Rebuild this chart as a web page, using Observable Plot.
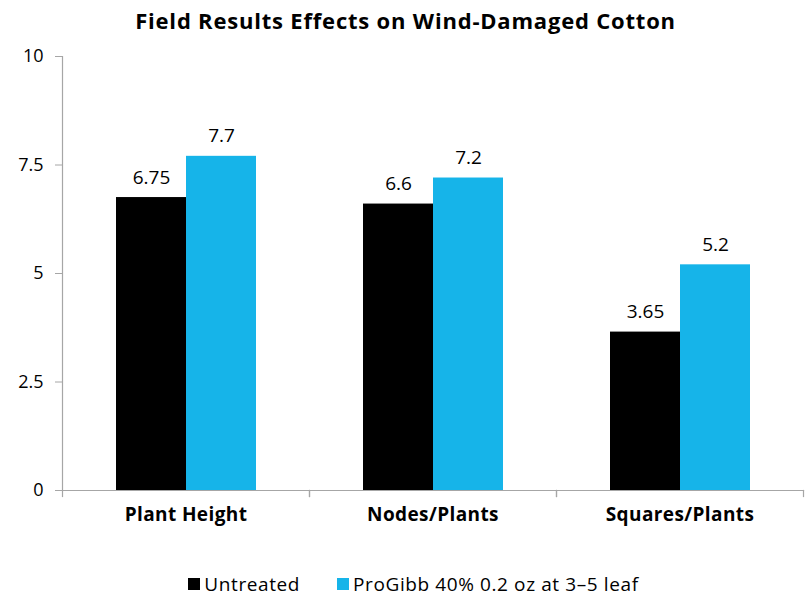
<!DOCTYPE html>
<html><head><meta charset="utf-8">
<script src="https://cdn.jsdelivr.net/npm/d3@7"></script>
<script src="https://cdn.jsdelivr.net/npm/@observablehq/plot@0.6"></script>
<style>
html,body{margin:0;background:#fff;}
body{font-family:"Open Sans",sans-serif;width:811px;color:#000;}
#title{height:40px;line-height:41px;text-align:center;font-weight:700;font-size:22px;letter-spacing:0.8px;}
#chart svg{display:block;}
#chart svg g[aria-label="fx-axis tick label"]{letter-spacing:0.4px;}
#legend{display:flex;justify-content:center;align-items:center;padding-top:44px;font-size:19px;line-height:20px;height:20px;letter-spacing:0.6px;padding-left:16px;}
.item{display:flex;align-items:center;}
.sw{width:12px;height:12px;margin-right:4px;}
</style></head><body>
<div id="title">Field Results Effects on Wind-Damaged Cotton</div>
<div id="chart"></div>
<div id="legend"></div>
<script>
const categories = ["Plant Height", "Nodes/Plants", "Squares/Plants"];
const seriesNames = ["Untreated", "ProGibb 40% 0.2 oz at 3–5 leaf"];
const untreated = [6.75, 6.6, 3.65];
const progibb = [7.7, 7.2, 5.2];
const yTicks = [0, 2.5, 5, 7.5, 10];
const yTickLabels = ["0", "2.5", "5", "7.5", "10"];
const colors = ["#000000", "#16b4e9"];

const data = categories.flatMap((c, i) => [
  {category: c, series: seriesNames[0], value: untreated[i]},
  {category: c, series: seriesNames[1], value: progibb[i]}
]);

const W = 811, H = 490, mT = 16, mB = 40, mL = 61, mR = 8;
const innerH = H - mT - mB;
const axisColor = "#a6a6a6";
const font = "'Open Sans', sans-serif";

const chart = Plot.plot({
  width: W, height: H,
  marginTop: mT, marginBottom: mB, marginLeft: mL, marginRight: mR,
  style: {fontFamily: font, fontSize: "18px", color: "#000", background: "#fff", overflow: "visible"},
  fx: {domain: categories, padding: 0, label: null},
  x: {domain: seriesNames, paddingInner: 0, paddingOuter: 0.75, axis: null},
  y: {domain: [0, 10], axis: null},
  color: {domain: seriesNames, range: colors},
  marks: [
    Plot.barY(data, {fx: "category", x: "series", y: "value", fill: "series"}),
    Plot.text(data, {fx: "category", x: "series", y: "value", text: d => String(d.value), dy: -20, fontSize: 19, fill: "#000"}),
    Plot.frame({anchor: "bottom", stroke: axisColor, strokeWidth: 1.2}),
    Plot.frame({anchor: "left", stroke: axisColor, strokeWidth: 1.2, facetAnchor: "left"}),
    Plot.frame({anchor: "left", stroke: axisColor, strokeWidth: 1.2, insetTop: innerH, insetBottom: -6}),
    Plot.frame({anchor: "right", stroke: axisColor, strokeWidth: 1.2, insetTop: innerH, insetBottom: -6}),
    Plot.axisY({ticks: yTicks, tickFormat: d => yTickLabels[yTicks.indexOf(d)], tickSize: 7, tickPadding: 12, stroke: axisColor, fill: "#000", fontSize: 18, label: null}),
    Plot.axisFx({anchor: "bottom", tickSize: 0, tickPadding: 17, fontWeight: "bold", fontSize: 19, fill: "#000", label: null})
  ]
});
document.getElementById("chart").appendChild(chart);

const legend = document.getElementById("legend");
seriesNames.forEach((s, i) => {
  const item = document.createElement("div");
  item.className = "item";
  if (i > 0) item.style.marginLeft = "37px";
  const sw = document.createElement("div");
  sw.className = "sw";
  sw.style.background = colors[i];
  const t = document.createElement("span");
  t.textContent = s;
  item.appendChild(sw); item.appendChild(t);
  legend.appendChild(item);
});
</script>
</body></html>
